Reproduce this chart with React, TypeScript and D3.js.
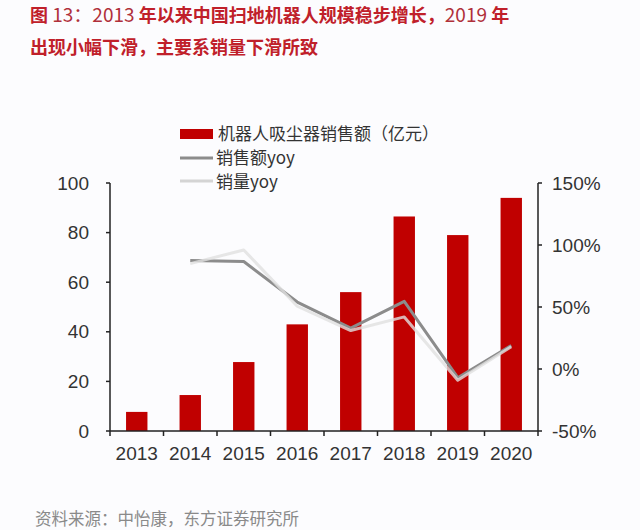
import * as d3 from 'd3';

const years = ['2013', '2014', '2015', '2016', '2017', '2018', '2019', '2020'];
const salesValue = [7.7, 14.5, 27.8, 43, 56, 86.5, 79, 94];
const valueYoy: (number | null)[] = [null, 87.5, 86.7, 54, 33, 54.6, -7, 19];
const volumeYoy: (number | null)[] = [null, 85, 96, 50.6, 31, 42, -9, 18];
const leftTicks = [0, 20, 40, 60, 80, 100];
const rightTicks = [-50, 0, 50, 100, 150];

const CJK = '"Noto Sans CJK SC", "Liberation Sans", sans-serif';
const NUM = '"Liberation Sans", Arial, sans-serif';

function App() {
    const width = 640, height = 530;
    const left = 110, right = 538, top = 183, bottom = 431;

    const x = d3.scaleBand<string>().domain(years).range([left, right]).paddingInner(0.6).paddingOuter(0.3);
    const xc = (d: string) => (x(d) as number) + x.bandwidth() / 2;
    const yL = d3.scaleLinear().domain([0, 100]).range([bottom, top]);
    const yR = d3.scaleLinear().domain([-50, 150]).range([bottom, top]);

    const line = d3.line<number | null>()
        .defined(d => d !== null)
        .x((_, i) => xc(years[i]))
        .y(d => yR(d as number));

    const step = (right - left) / years.length;
    const bounds = d3.range(years.length + 1).map(i => left + i * step);

    return (
        <svg width={width} height={height} style={{ position: 'absolute', left: 0, top: 0, background: '#fcfcfe' }}>
            <text x={30} y={22} fontFamily={CJK} fontSize={18} fill="#c0202a" fontWeight="bold">
                <tspan>图</tspan>
                <tspan fontWeight="normal" fill="#b0303a" fontSize={19}> 13：2013 </tspan>
                <tspan>年以来中国扫地机器人规模稳步增长，</tspan>
                <tspan fontWeight="normal" fill="#b0303a" fontSize={19}>2019 </tspan>
                <tspan>年</tspan>
            </text>
            <text x={30} y={54} fontFamily={CJK} fontSize={18} fill="#c0202a" fontWeight="bold">
                出现小幅下滑，主要系销量下滑所致
            </text>

            {/* legend */}
            <rect x={180} y={129} width={33} height={10} fill="#c00000" />
            <text x={218} y={140} fontFamily={CJK} fontSize={17} fill="#333">机器人吸尘器销售额（亿元）</text>
            <line x1={180} x2={213} y1={158} y2={158} stroke="#8c8c8c" strokeWidth={3} />
            <text x={216} y={164} fontFamily={CJK} fontSize={17} fill="#333">销售额yoy</text>
            <line x1={180} x2={213} y1={181} y2={181} stroke="#d4d4d4" strokeWidth={3} />
            <text x={216} y={188} fontFamily={CJK} fontSize={17} fill="#333">销量yoy</text>

            {/* bars */}
            {salesValue.map((v, i) => (
                <rect key={years[i]} x={x(years[i])} y={yL(v)} width={x.bandwidth()} height={bottom - yL(v)} fill="#c00000" />
            ))}

            {/* lines */}
            <path d={line(valueYoy) as string} fill="none" stroke="#8c8c8c" strokeWidth={3} strokeLinejoin="round" />
            <path d={line(volumeYoy) as string} fill="none" stroke="#e0e0e0" strokeOpacity={0.8} strokeWidth={3} strokeLinejoin="round" />

            {/* left axis */}
            <line x1={left} x2={left} y1={top} y2={bottom} stroke="#222" strokeWidth={1.5} />
            {leftTicks.map(t => (
                <g key={t}>
                    <line x1={left - 4} x2={left} y1={yL(t)} y2={yL(t)} stroke="#222" strokeWidth={1.5} />
                    <text x={89} y={yL(t)} dy="0.35em" textAnchor="end" fontFamily={NUM} fontSize={19} fill="#333">{t}</text>
                </g>
            ))}

            {/* right axis */}
            <line x1={right} x2={right} y1={top} y2={bottom} stroke="#222" strokeWidth={1.5} />
            {rightTicks.map(t => (
                <g key={t}>
                    <line x1={right} x2={right + 4} y1={yR(t)} y2={yR(t)} stroke="#222" strokeWidth={1.5} />
                    <text x={552} y={yR(t)} dy="0.35em" fontFamily={NUM} fontSize={19} fill="#333">{t}%</text>
                </g>
            ))}

            {/* x axis */}
            <line x1={left} x2={right} y1={bottom} y2={bottom} stroke="#222" strokeWidth={1.5} />
            {bounds.map((b, i) => (
                <line key={i} x1={b} x2={b} y1={bottom} y2={bottom + 5} stroke="#222" strokeWidth={1.5} />
            ))}
            {years.map(yr => (
                <text key={yr} x={xc(yr)} y={460} textAnchor="middle" fontFamily={NUM} fontSize={19} fill="#333">{yr}</text>
            ))}

            <text x={35} y={525} fontFamily={CJK} fontSize={16.5} fill="#8a8a8a">资料来源：中怡康，东方证券研究所</text>
        </svg>
    );
}

export default App;
